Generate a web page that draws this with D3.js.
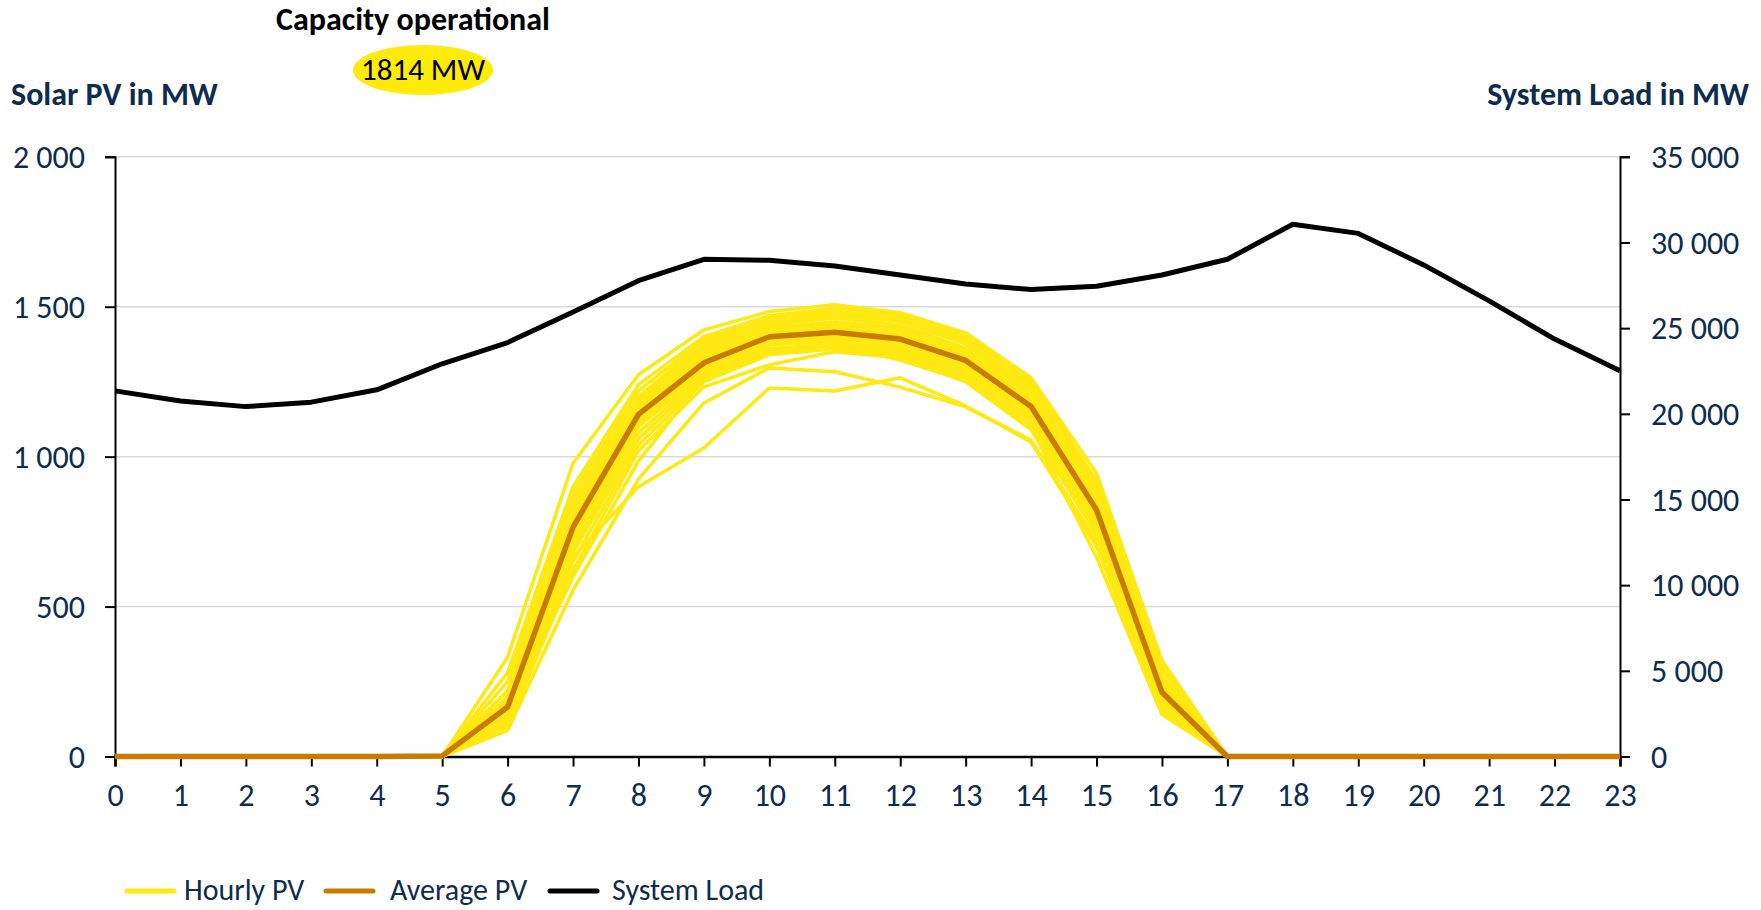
<!DOCTYPE html>
<html><head><meta charset="utf-8">
<script src="https://cdn.jsdelivr.net/npm/d3@7"></script>
<style>
html,body{margin:0;padding:0;background:#fff;}
svg{display:block;}
text{font-family:Carlito, Calibri, Lato, "Open Sans", sans-serif;}
</style></head>
<body>
<svg id="chart" width="1761" height="910"></svg>
<script>
// ---------- DATA ----------
const hours = d3.range(0, 24);
const pvTicks = [0, 500, 1000, 1500, 2000];
const loadTicks = [0, 5000, 10000, 15000, 20000, 25000, 30000, 35000];

const systemLoad = [21340, 20750, 20420, 20680, 21400, 22920, 24160, 25940, 27770, 29020, 28960, 28630,
                    28100, 27580, 27250, 27450, 28100, 29020, 31060, 30530, 28690, 26590, 24360, 22520];

const averagePV = [0, 0, 0, 0, 0, 2, 165, 765, 1141, 1313, 1400, 1415, 1392, 1321, 1167, 822, 214, 0, 0, 0, 0, 0, 0, 0];

// hourly PV days: values for hours 6..16 (all other hours ~0)
const hourlyPVdays = [
  [331, 978, 1273, 1423, 1484, 1507, 1480, 1413, 1263, 945, 320],
  [280, 900, 1240, 1400, 1470, 1495, 1475, 1400, 1250, 920, 300],
  [250, 880, 1220, 1390, 1460, 1490, 1470, 1390, 1240, 905, 290],
  [220, 860, 1200, 1380, 1455, 1480, 1460, 1380, 1230, 890, 270],
  [200, 840, 1190, 1370, 1450, 1470, 1452, 1375, 1220, 880, 260],
  [190, 820, 1180, 1360, 1440, 1462, 1440, 1362, 1210, 870, 250],
  [180, 800, 1170, 1350, 1430, 1450, 1430, 1352, 1200, 860, 240],
  [175, 790, 1160, 1340, 1422, 1440, 1420, 1345, 1190, 850, 230],
  [170, 780, 1150, 1330, 1415, 1430, 1410, 1335, 1182, 840, 222],
  [160, 770, 1145, 1320, 1405, 1420, 1400, 1326, 1175, 830, 215],
  [155, 758, 1135, 1310, 1395, 1410, 1390, 1315, 1165, 820, 210],
  [150, 750, 1120, 1300, 1390, 1402, 1380, 1306, 1155, 810, 200],
  [140, 740, 1110, 1290, 1380, 1395, 1372, 1300, 1145, 800, 195],
  [135, 720, 1100, 1280, 1372, 1385, 1362, 1290, 1135, 790, 190],
  [130, 700, 1080, 1270, 1360, 1376, 1352, 1280, 1125, 780, 180],
  [120, 680, 1060, 1262, 1350, 1366, 1345, 1270, 1115, 770, 170],
  [110, 650, 1040, 1250, 1340, 1360, 1340, 1260, 1100, 760, 160],
  [100, 620, 1020, 1233, 1306, 1350, 1330, 1250, 1090, 740, 150],
  [140, 600, 985, 1262, 1358, 1372, 1322, 1252, 1098, 665, 140],
  [120, 665, 900, 1029, 1229, 1219, 1263, 1169, 1049, 700, 160],
  [87, 555, 925, 1179, 1296, 1283, 1232, 1166, 1055, 720, 150]
];

const capacityTitle = "Capacity operational";
const capacityValue = "1814 MW";
const leftAxisTitle = "Solar PV in MW";
const rightAxisTitle = "System Load in MW";
const legendLabels = ["Hourly PV", "Average PV", "System Load"];

// ---------- BUILD ----------
const hourlyPV = hourlyPVdays.map(d => hours.map(h => (h >= 6 && h <= 16) ? d[h - 6] : 0));

const colYellow = "#FFE912", colOrange = "#C97B00", colLoad = "#000000", colNavy = "#0E2C4E";
const svg = d3.select("#chart");

const x = d3.scaleLinear().domain([0, 23]).range([115, 1620]);
const yL = d3.scaleLinear().domain([0, 2000]).range([756.5, 156.8]);
const yR = d3.scaleLinear().domain([0, 35000]).range([756.5, 156.8]);

// gridlines
svg.append("g").selectAll("line").data(pvTicks.filter(t => t > 0)).join("line")
  .attr("x1", x(0)).attr("x2", x(23))
  .attr("y1", d => yL(d)).attr("y2", d => yL(d))
  .attr("stroke", "#d9d9d9").attr("stroke-width", 1.5);

// axes
const tickFont = 32;
const spaceFmt = d => d3.format(",")(d).replace(/,/g, " ");
const gL = svg.append("g").attr("transform", `translate(${x(0)},0)`)
  .call(d3.axisLeft(yL).tickValues(pvTicks).tickSize(10).tickPadding(20).tickFormat(spaceFmt));
const gR = svg.append("g").attr("transform", `translate(${x(23)},0)`)
  .call(d3.axisRight(yR).tickValues(loadTicks).tickSize(10).tickPadding(21).tickFormat(spaceFmt));
const gB = svg.append("g").attr("transform", `translate(0,${yL(0)})`)
  .call(d3.axisBottom(x).tickValues(hours).tickSize(10).tickPadding(17).tickFormat(d3.format("d")));

[gL, gR, gB].forEach(g => {
  g.select(".domain").attr("stroke", "#000").attr("stroke-width", 2);
  g.selectAll(".tick line").attr("stroke", "#000").attr("stroke-width", 2);
  g.selectAll(".tick text").attr("fill", colNavy).style("font-size", tickFont + "px")
    .style("font-family", "Carlito, Calibri, Lato, sans-serif");
});
gL.selectAll(".tick text").attr("dy", "0.33em");
gR.selectAll(".tick text").attr("dy", "0.33em");
gB.select(".domain").attr("stroke-width", 2.5);

// lines
const line = yScale => d3.line().x((d, i) => x(hours[i])).y(d => yScale(d));

svg.append("g").selectAll("path").data(hourlyPV).join("path")
  .attr("d", line(yL)).attr("fill", "none").attr("stroke", colYellow)
  .attr("stroke-width", 3.5).attr("stroke-linejoin", "round");

svg.append("path").datum(averagePV).attr("d", line(yL))
  .attr("fill", "none").attr("stroke", colOrange).attr("stroke-width", 5.5).attr("stroke-linejoin", "round");

svg.append("path").datum(systemLoad).attr("d", line(yR))
  .attr("fill", "none").attr("stroke", colLoad).attr("stroke-width", 5).attr("stroke-linejoin", "round");

// titles
const titleFont = "32px";
svg.append("text").attr("x", 11).attr("y", 105).text(leftAxisTitle)
  .attr("fill", colNavy).style("font-weight", "bold").style("font-size", titleFont);
svg.append("text").attr("x", 1749).attr("y", 105).attr("text-anchor", "end").text(rightAxisTitle)
  .attr("fill", colNavy).style("font-weight", "bold").style("font-size", titleFont);

svg.append("text").attr("x", 413).attr("y", 30).attr("text-anchor", "middle").text(capacityTitle)
  .attr("fill", "#000").style("font-weight", "bold").style("font-size", titleFont);
svg.append("ellipse").attr("cx", 423).attr("cy", 70).attr("rx", 70).attr("ry", 25).attr("fill", "#FFEB0A");
svg.append("text").attr("x", 423).attr("y", 80).attr("text-anchor", "middle").text(capacityValue)
  .attr("fill", "#000").style("font-size", "31px");

// legend
const legendItems = [
  {label: legendLabels[0], color: colYellow, x1: 127, tx: 184},
  {label: legendLabels[1], color: colOrange, x1: 326, tx: 390},
  {label: legendLabels[2], color: colLoad, x1: 550, tx: 612}
];
const lg = svg.append("g").selectAll("g").data(legendItems).join("g");
lg.append("line").attr("x1", d => d.x1).attr("x2", d => d.x1 + 47)
  .attr("y1", 891).attr("y2", 891).attr("stroke", d => d.color)
  .attr("stroke-width", 5).attr("stroke-linecap", "round");
lg.append("text").attr("x", d => d.tx).attr("y", 900).text(d => d.label)
  .attr("fill", colNavy).style("font-size", "30px");
</script>
</body></html>
